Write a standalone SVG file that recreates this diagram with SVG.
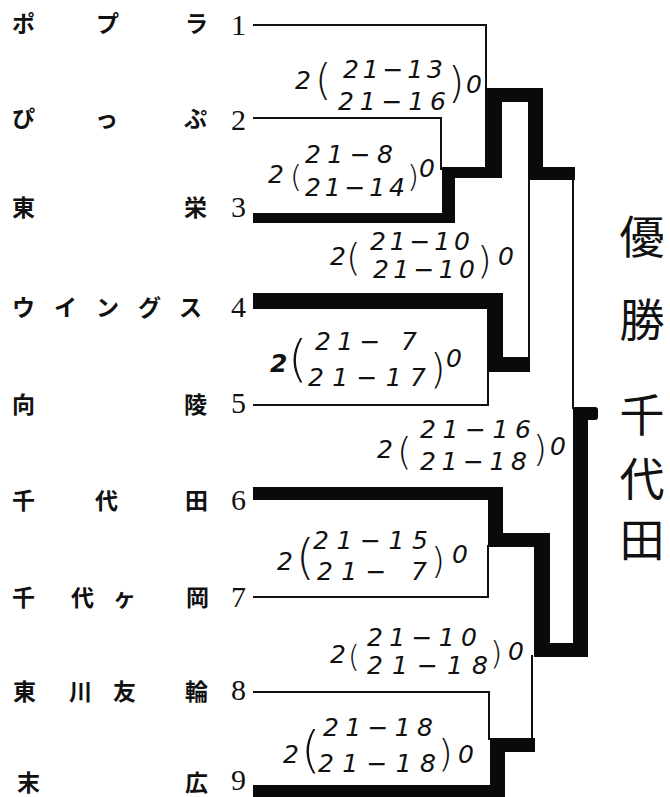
<svg xmlns="http://www.w3.org/2000/svg" width="670" height="797" viewBox="0 0 670 797">
<style>
.nm{font-family:"Noto Sans CJK JP","Noto Sans CJK SC",sans-serif;font-size:23px;font-weight:bold;fill:#111}
.no{font-family:"Liberation Serif",serif;font-size:30px;fill:#111}
.sc{font-family:"DejaVu Sans",sans-serif;font-style:oblique;font-size:25px;fill:#111}
.pa{font-family:"DejaVu Sans",sans-serif;font-weight:300;fill:#111}
.win{font-family:"Noto Sans CJK JP","Noto Sans CJK SC",sans-serif;font-size:45px;fill:#111;text-anchor:middle}
.thin{fill:none;stroke:#111;stroke-width:2}
.thick{fill:#0a0a0a}
</style>
<rect width="670" height="797" fill="#fff"/>

<g id="connectors">
  <path class="thin" d="M253 25H486V90"/>
  <path class="thin" d="M253 118H441V170"/>
  <path class="thin" d="M529 178V359"/>
  <path class="thin" d="M573 178V409"/>
  <path class="thin" d="M253 405H488V370"/>
  <path class="thin" d="M253 597H488V545"/>
  <path class="thin" d="M253 692H489V740"/>
  <path class="thin" d="M532 655V740"/>
  <g class="thick">
    <rect x="253" y="213" width="202" height="10"/>
    <rect x="442" y="167" width="13" height="56"/>
    <rect x="442" y="167" width="60" height="11"/>
    <rect x="485" y="88" width="17" height="90"/>
    <rect x="485" y="88" width="58" height="14"/>
    <rect x="528" y="88" width="15" height="92"/>
    <rect x="528" y="167" width="47" height="13"/>
    <rect x="253" y="293" width="250" height="16"/>
    <rect x="487" y="293" width="16" height="79"/>
    <rect x="487" y="357" width="43" height="15"/>
    <rect x="253" y="487" width="250" height="13"/>
    <rect x="488" y="487" width="15" height="60"/>
    <rect x="488" y="533" width="62" height="14"/>
    <rect x="534" y="533" width="16" height="124"/>
    <rect x="534" y="643" width="54" height="14"/>
    <rect x="573" y="407" width="15" height="250"/>
    <rect x="573" y="407" width="25" height="13" rx="3"/>
    <rect x="253" y="785" width="252" height="12"/>
    <rect x="490" y="738" width="15" height="59"/>
    <rect x="490" y="738" width="45" height="14"/>
  </g>
</g>

<g id="team-1"><text class="nm" y="32"><tspan x="12">ポ</tspan><tspan x="96">プ</tspan><tspan x="185">ラ</tspan></text><text class="no" x="231" y="35">1</text></g>
<g id="team-2"><text class="nm" y="127"><tspan x="12">ぴ</tspan><tspan x="95">っ</tspan><tspan x="184">ぷ</tspan></text><text class="no" x="231" y="130">2</text></g>
<g id="team-3"><text class="nm" y="216"><tspan x="12">東</tspan><tspan x="184">栄</tspan></text><text class="no" x="231" y="217">3</text></g>
<g id="team-4"><text class="nm" y="316"><tspan x="12">ウ</tspan><tspan x="54">イ</tspan><tspan x="96">ン</tspan><tspan x="138">グ</tspan><tspan x="179">ス</tspan></text><text class="no" x="231" y="317">4</text></g>
<g id="team-5"><text class="nm" y="413"><tspan x="12">向</tspan><tspan x="184">陵</tspan></text><text class="no" x="231" y="413">5</text></g>
<g id="team-6"><text class="nm" y="509"><tspan x="12">千</tspan><tspan x="95">代</tspan><tspan x="185">田</tspan></text><text class="no" x="231" y="510">6</text></g>
<g id="team-7"><text class="nm" y="606"><tspan x="12">千</tspan><tspan x="71">代</tspan><tspan x="113">ヶ</tspan><tspan x="186">岡</tspan></text><text class="no" x="231" y="607">7</text></g>
<g id="team-8"><text class="nm" y="700"><tspan x="13">東</tspan><tspan x="69">川</tspan><tspan x="113">友</tspan><tspan x="185">輪</tspan></text><text class="no" x="231" y="700">8</text></g>
<g id="team-9"><text class="nm" y="791"><tspan x="17">末</tspan><tspan x="185">広</tspan></text><text class="no" x="231" y="790">9</text></g>

<g id="score-1-23">
  <text class="sc" x="295" y="89" font-size="22">2</text>
  <text class="pa" x="315" y="95" font-size="42">(</text>
  <text class="sc" x="343" y="78" textLength="100" lengthAdjust="spacing">21−13</text>
  <text class="sc" x="338" y="110" textLength="108" lengthAdjust="spacing">21−16</text>
  <text class="pa" x="448" y="98" font-size="42">)</text>
  <text class="sc" x="466" y="93" font-size="19">0</text>
</g>
<g id="score-2-3">
  <text class="sc" x="268" y="183" font-size="22">2</text>
  <text class="pa" x="290" y="187" font-size="31">(</text>
  <text class="sc" x="305" y="163" textLength="88" lengthAdjust="spacing">21−8</text>
  <text class="sc" x="305" y="196" textLength="100" lengthAdjust="spacing">21−14</text>
  <text class="pa" x="407" y="187" font-size="31">)</text>
  <text class="sc" x="419" y="177" font-size="19">0</text>
</g>
<g id="score-3-4">
  <text class="sc" x="330" y="265" font-size="22">2</text>
  <text class="pa" x="346" y="270" font-size="38">(</text>
  <text class="sc" x="370" y="250" font-size="20" textLength="100" lengthAdjust="spacing">21−10</text>
  <text class="sc" x="373" y="278" font-size="20" textLength="102" lengthAdjust="spacing">21−10</text>
  <text class="pa" x="477" y="273" font-size="38">)</text>
  <text class="sc" x="498" y="265" font-size="19">0</text>
</g>
<g id="score-4-5">
  <text class="sc" x="270" y="372" font-size="26" font-weight="bold">2</text>
  <text class="pa" x="288" y="376" font-size="50">(</text>
  <text class="sc" x="315" y="350" textLength="102" lengthAdjust="spacing">21− 7</text>
  <text class="sc" x="308" y="386" textLength="118" lengthAdjust="spacing">21−17</text>
  <text class="pa" x="430" y="383" font-size="40">)</text>
  <text class="sc" x="446" y="367" font-size="20">0</text>
</g>
<g id="score-final">
  <text class="sc" x="377" y="458" font-size="24">2</text>
  <text class="pa" x="397" y="464" font-size="38">(</text>
  <text class="sc" x="420" y="438" textLength="111" lengthAdjust="spacing">21−16</text>
  <text class="sc" x="420" y="470" textLength="107" lengthAdjust="spacing">21−18</text>
  <text class="pa" x="533" y="461" font-size="36">)</text>
  <text class="sc" x="550" y="455" font-size="19">0</text>
</g>
<g id="score-6-7">
  <text class="sc" x="277" y="570" font-size="24">2</text>
  <text class="pa" x="296" y="574" font-size="48">(</text>
  <text class="sc" x="313" y="549" textLength="115" lengthAdjust="spacing">21−15</text>
  <text class="sc" x="317" y="580" textLength="110" lengthAdjust="spacing">21− 7</text>
  <text class="pa" x="431" y="573" font-size="36">)</text>
  <text class="sc" x="452" y="563" font-size="20">0</text>
</g>
<g id="score-6-9">
  <text class="sc" x="330" y="663" font-size="22">2</text>
  <text class="pa" x="348" y="667" font-size="30">(</text>
  <text class="sc" x="367" y="646" font-size="20" textLength="110" lengthAdjust="spacing">21−10</text>
  <text class="sc" x="367" y="674" font-size="20" textLength="121" lengthAdjust="spacing">21−18</text>
  <text class="pa" x="490" y="664" font-size="32">)</text>
  <text class="sc" x="508" y="660" font-size="20">0</text>
</g>
<g id="score-8-9">
  <text class="sc" x="283" y="763" font-size="22">2</text>
  <text class="pa" x="301" y="767" font-size="50">(</text>
  <text class="sc" x="323" y="736" textLength="110" lengthAdjust="spacing">21−18</text>
  <text class="sc" x="318" y="772" textLength="118" lengthAdjust="spacing">21−18</text>
  <text class="pa" x="438" y="766" font-size="38">)</text>
  <text class="sc" x="458" y="763" font-size="20">0</text>
</g>

<g id="champion">
  <text class="win" x="642" y="254">優</text>
  <text class="win" x="642" y="337">勝</text>
  <text class="win" x="642" y="432">千</text>
  <text class="win" x="642" y="496">代</text>
  <text class="win" x="642" y="557">田</text>
</g>
</svg>
